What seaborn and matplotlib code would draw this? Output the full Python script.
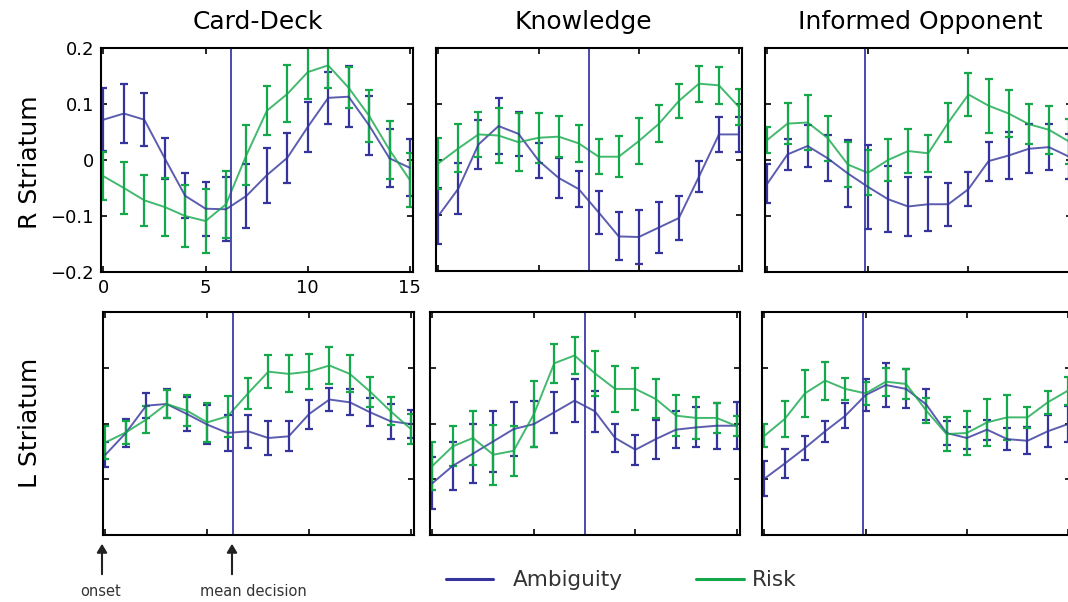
import matplotlib
matplotlib.use("Agg")
import matplotlib.pyplot as plt
from matplotlib.lines import Line2D
from matplotlib.patches import FancyArrowPatch
import pandas as pd
import seaborn as sns

W, H = 1068, 602

# time points (s) and per-condition means / error bars
time = list(range(16))
conditions = ["Card-Deck", "Knowledge", "Informed Opponent"]
regions = ["R Striatum", "L Striatum"]
mean_decision = [6.25, 7.5, 4.85]

r_amb = {
    "Card-Deck": [0.072, 0.083, 0.072, 0.003, -0.064, -0.087, -0.088, -0.064,
                  -0.027, 0.004, 0.059, 0.111, 0.113, 0.062, 0.003, -0.014],
    "Knowledge": [-0.101, -0.052, 0.027, 0.060, 0.046, -0.002, -0.033, -0.053,
                  -0.095, -0.138, -0.139, -0.122, -0.105, -0.031, 0.045, 0.045],
    "Informed Opponent": [-0.042, 0.010, 0.025, 0.003, -0.024, -0.048, -0.070, -0.083,
                          -0.079, -0.079, -0.052, -0.002, 0.008, 0.020, 0.023, 0.006],
}
r_amb_err = {
    "Card-Deck": [0.056, 0.053, 0.047, 0.037, 0.040, 0.048, 0.057, 0.057,
                  0.049, 0.045, 0.045, 0.047, 0.054, 0.053, 0.052, 0.051],
    "Knowledge": [0.050, 0.046, 0.044, 0.051, 0.040, 0.031, 0.036, 0.033,
                  0.039, 0.043, 0.048, 0.046, 0.039, 0.028, 0.031, 0.031],
    "Informed Opponent": [0.035, 0.028, 0.038, 0.041, 0.060, 0.075, 0.059, 0.052,
                          0.048, 0.038, 0.031, 0.035, 0.042, 0.044, 0.041, 0.040],
}
r_risk = {
    "Card-Deck": [-0.029, -0.050, -0.072, -0.084, -0.100, -0.109, -0.079, 0.009,
                  0.088, 0.118, 0.157, 0.169, 0.129, 0.079, 0.018, -0.036],
    "Knowledge": [-0.007, 0.020, 0.045, 0.043, 0.031, 0.039, 0.041, 0.029,
                  0.005, 0.005, 0.033, 0.064, 0.105, 0.136, 0.133, 0.094],
    "Informed Opponent": [0.036, 0.065, 0.067, 0.039, -0.008, -0.023, 0.000, 0.016,
                          0.012, 0.067, 0.117, 0.097, 0.083, 0.064, 0.054, 0.033],
}
r_risk_err = {
    "Card-Deck": [0.043, 0.047, 0.046, 0.051, 0.055, 0.057, 0.060, 0.053,
                  0.044, 0.051, 0.048, 0.040, 0.037, 0.046, 0.052, 0.048],
    "Knowledge": [0.046, 0.043, 0.041, 0.049, 0.052, 0.045, 0.037, 0.033,
                  0.031, 0.037, 0.041, 0.033, 0.030, 0.032, 0.033, 0.033],
    "Informed Opponent": [0.023, 0.036, 0.049, 0.040, 0.040, 0.040, 0.038, 0.040,
                          0.033, 0.035, 0.039, 0.048, 0.042, 0.036, 0.043, 0.040],
}
l_amb = {
    "Card-Deck": [-0.056, -0.017, 0.032, 0.035, 0.017, -0.002, -0.017, -0.014,
                  -0.026, -0.023, 0.017, 0.043, 0.038, 0.020, 0.004, -0.001],
    "Knowledge": [-0.107, -0.076, -0.054, -0.032, -0.010, -0.001, 0.020, 0.041,
                  0.022, -0.026, -0.047, -0.028, -0.011, -0.007, -0.004, -0.004],
    "Informed Opponent": [-0.099, -0.072, -0.044, -0.014, 0.014, 0.051, 0.069, 0.062,
                          0.034, -0.017, -0.026, -0.011, -0.028, -0.031, -0.014, -0.001],
}
l_amb_err = {
    "Card-Deck": [0.022, 0.025, 0.022, 0.026, 0.030, 0.035, 0.033, 0.030,
                  0.030, 0.027, 0.026, 0.020, 0.023, 0.025, 0.031, 0.025],
    "Knowledge": [0.047, 0.043, 0.053, 0.055, 0.048, 0.042, 0.037, 0.039,
                  0.037, 0.026, 0.027, 0.035, 0.033, 0.036, 0.041, 0.042],
    "Informed Opponent": [0.031, 0.026, 0.022, 0.019, 0.022, 0.028, 0.040, 0.035,
                          0.028, 0.022, 0.019, 0.018, 0.020, 0.024, 0.029, 0.032],
}
l_risk = {
    "Card-Deck": [-0.034, -0.016, 0.007, 0.035, 0.023, 0.002, 0.013, 0.054,
                  0.093, 0.089, 0.093, 0.104, 0.089, 0.057, 0.022, -0.010],
    "Knowledge": [-0.076, -0.041, -0.026, -0.056, -0.049, 0.017, 0.108, 0.122,
                  0.090, 0.062, 0.062, 0.044, 0.014, 0.010, 0.010, -0.005],
    "Informed Opponent": [-0.022, 0.008, 0.054, 0.077, 0.062, 0.054, 0.075, 0.071,
                          0.023, -0.019, -0.017, 0.002, 0.011, 0.011, 0.038, 0.059],
}
l_risk_err = {
    "Card-Deck": [0.030, 0.020, 0.024, 0.025, 0.028, 0.035, 0.037, 0.028,
                  0.029, 0.033, 0.031, 0.033, 0.033, 0.027, 0.025, 0.027],
    "Knowledge": [0.043, 0.036, 0.049, 0.054, 0.045, 0.060, 0.035, 0.034,
                  0.040, 0.041, 0.038, 0.035, 0.037, 0.037, 0.027, 0.018],
    "Informed Opponent": [0.021, 0.033, 0.042, 0.034, 0.019, 0.020, 0.025, 0.027,
                          0.022, 0.031, 0.040, 0.042, 0.040, 0.019, 0.021, 0.025],
}

amb_color = "#34349c"
risk_color = "#13a84a"

sns.set_style("ticks")
plt.rcParams["font.family"] = ["DejaVu Sans"]
plt.rcParams["text.color"] = "black"

fig = plt.figure(figsize=(W / 100, H / 100), dpi=100)

def box(l, t, r, b):
    return [l / W, 1 - b / H, (r - l) / W, (b - t) / H]

# panel boxes in pixels (left, top, right, bottom)
boxes = [
    [(101, 48, 413, 272), (436, 48, 742, 271), (765, 48, 1072, 272)],
    [(103, 312, 414, 535), (430, 312, 740, 535), (762, 312, 1071, 535)],
]
data = [(r_amb, r_amb_err, r_risk, r_risk_err), (l_amb, l_amb_err, l_risk, l_risk_err)]

for i in range(2):
    amb, amb_err, risk, risk_err = data[i]
    for j, cond in enumerate(conditions):
        ax = fig.add_axes(box(*boxes[i][j]))
        df = pd.DataFrame({"time": time * 2,
                           "value": amb[cond] + risk[cond],
                           "err": amb_err[cond] + risk_err[cond],
                           "type": ["Ambiguity"] * 16 + ["Risk"] * 16})
        for kind, col in [("Ambiguity", amb_color), ("Risk", risk_color)]:
            d = df[df["type"] == kind]
            ax.errorbar(d["time"], d["value"], yerr=d["err"], fmt="none",
                        ecolor=col, elinewidth=1.6, capsize=3, capthick=1.6)
        sns.lineplot(data=df, x="time", y="value", hue="type",
                     palette={"Ambiguity": amb_color, "Risk": risk_color},
                     linewidth=1.4, alpha=0.8, legend=False, ax=ax)
        ax.axvline(mean_decision[j], color="#3c3ca8", linewidth=1.3)
        ax.set_xlim(-0.12, 15.15)
        ax.set_ylim(-0.2, 0.2)
        ax.set_xticks([0, 5, 10, 15])
        ax.set_yticks([-0.2, -0.1, 0, 0.1, 0.2])
        ax.tick_params(direction="in", top=True, right=True, length=4, width=1.2,
                       labelsize=13, pad=5, color="black", labelcolor="black")
        for s in ax.spines.values():
            s.set_linewidth(1.5)
            s.set_color("black")
        ax.set_xlabel("")
        ax.set_ylabel("")
        if i == 0 and j == 0:
            ax.set_yticklabels(["\u22120.2", "\u22120.1", "0", "0.1", "0.2"])
        else:
            ax.set_xticklabels([])
            ax.set_yticklabels([])

def fx(x):
    return x / W

def fy(y):
    return 1 - y / H

title_x = [258, 583, 920]
for cond, x in zip(conditions, title_x):
    fig.text(fx(x), fy(22), cond, ha="center", va="center", fontsize=18)
fig.text(fx(30), fy(162), regions[0], ha="center", va="center", rotation=90, fontsize=18)
fig.text(fx(30), fy(423), regions[1], ha="center", va="center", rotation=90, fontsize=18)

# onset / mean decision arrows
for x, tx, label in [(102, 101, "onset"), (232, 253, "mean decision")]:
    fig.add_artist(FancyArrowPatch(
        (fx(x), fy(577)), (fx(x), fy(541)), transform=fig.transFigure,
        arrowstyle="-|>,head_length=5,head_width=3", color="#222222", linewidth=1.5))
    fig.text(fx(tx), fy(591), label, ha="center", va="center", fontsize=10.5,
             color="#333333")

# legend
for x0, x1, tx, col, label in [(446, 493, 513, amb_color, "Ambiguity"),
                               (696, 744, 752, risk_color, "Risk")]:
    fig.add_artist(Line2D([fx(x0), fx(x1)], [fy(579), fy(579)], color=col, linewidth=2.2,
                          transform=fig.transFigure))
    fig.text(fx(tx), fy(580), label, ha="left", va="center", fontsize=15.5,
             color="#333333")

plt.savefig("out.png", dpi=100)
plt.close()
